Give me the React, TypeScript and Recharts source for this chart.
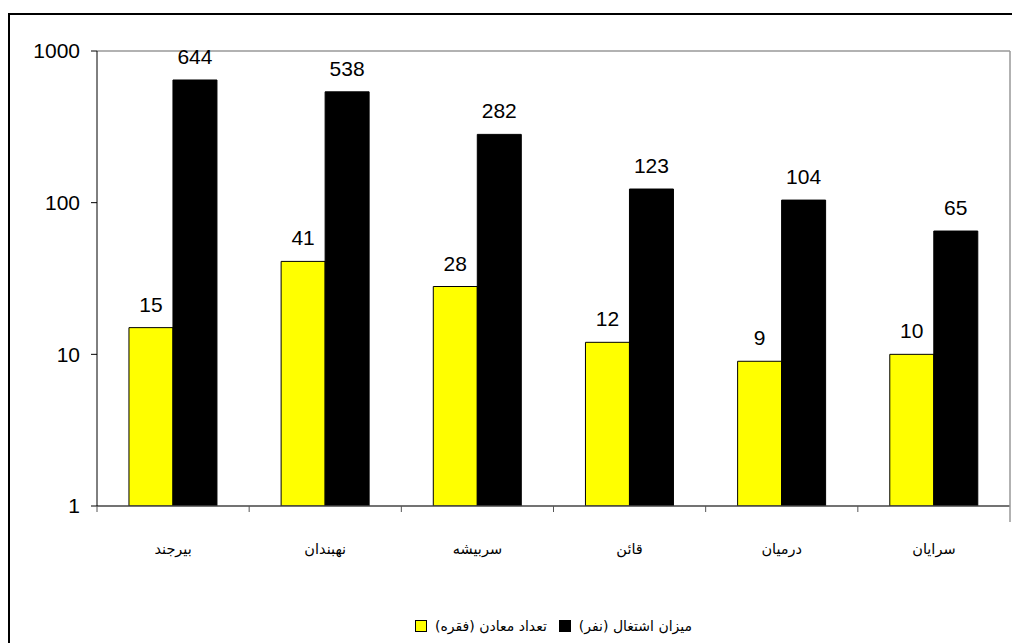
import React from 'react';
import { BarChart, Bar, XAxis, YAxis, LabelList } from 'recharts';

const CATEGORIES = ['بیرجند', 'نهبندان', 'سربیشه', 'قائن', 'درمیان', 'سرایان'];
const MINES = [15, 41, 28, 12, 9, 10];
const EMPLOYMENT = [644, 538, 282, 123, 104, 65];
const Y_TICKS = [1, 10, 100, 1000];
const SERIES_NAMES = ['تعداد معادن (فقره)', 'میزان اشتغال (نفر)'];

const data = CATEGORIES.map((name, i) => ({ name, mines: MINES[i], employment: EMPLOYMENT[i] }));

const W = 1012;
const H = 643;
const PLOT_LEFT = 97;
const PLOT_RIGHT = 1010;
const PLOT_TOP = 51;
const PLOT_BOTTOM = 506;
const X_AXIS_H = 40;
const TICK_SIZE = 6;
const X_TICK_MARGIN = 30;
const BAND = (PLOT_RIGHT - PLOT_LEFT) / CATEGORIES.length;

const CategoryTick = (props: any) => {
  const { x, y, payload, index } = props;
  const axisY = y - TICK_SIZE - X_TICK_MARGIN;
  const half = BAND / 2;
  return (
    <g>
      <line x1={x - half} y1={axisY} x2={x - half} y2={axisY + TICK_SIZE} stroke="#555" strokeWidth={1} />
      {index === CATEGORIES.length - 1 && (
        <line x1={x + half} y1={axisY} x2={x + half} y2={axisY + 16} stroke="#999" strokeWidth={1.5} />
      )}
      <text x={x} y={axisY + 48} textAnchor="middle" fontFamily="DejaVu Sans" fontSize={14.5} fill="#000" stroke="none">
        {payload.value}
      </text>
    </g>
  );
};

const LegendItem = ({ color, label }: { color: string; label: string }) => (
  <div style={{ display: 'flex', alignItems: 'center', gap: 8 }}>
    <div style={{ width: 10, height: 10, background: color, border: '1px solid #000' }} />
    <span dir="rtl" style={{ fontFamily: 'DejaVu Sans', fontSize: 14, color: '#000', whiteSpace: 'nowrap' }}>
      {label}
    </span>
  </div>
);

const labelStyle = { fontFamily: 'Liberation Sans', fontSize: 21, fill: '#000', stroke: 'none' };

export default function App() {
  return (
    <div style={{ position: 'absolute', left: 0, top: 0, width: W, height: H, overflow: 'hidden', background: '#fff' }}>
      <div
        style={{
          position: 'absolute',
          left: 8,
          top: 13,
          width: 1100,
          height: 800,
          border: '2px solid #000',
          boxSizing: 'border-box',
        }}
      />
      <div style={{ position: 'absolute', left: 0, top: 0 }}>
        <BarChart
          width={W}
          height={H}
          data={data}
          margin={{ top: PLOT_TOP - 1, left: PLOT_LEFT - 60, right: W - PLOT_RIGHT - 1, bottom: H - PLOT_BOTTOM - X_AXIS_H }}
          barCategoryGap="21%"
          barGap={0}
        >
          <XAxis
            dataKey="name"
            height={X_AXIS_H}
            axisLine={{ stroke: '#444', strokeWidth: 1.5 }}
            tickLine={false}
            tickSize={TICK_SIZE}
            tickMargin={X_TICK_MARGIN}
            tick={<CategoryTick />}
            interval={0}
          />
          <XAxis
            xAxisId="top"
            dataKey="name"
            orientation="top"
            height={1}
            axisLine={{ stroke: '#999', strokeWidth: 1.5 }}
            tick={false}
            tickLine={false}
          />
          <YAxis
            scale="log"
            domain={[1, 1000]}
            ticks={Y_TICKS}
            allowDataOverflow
            width={60}
            axisLine={{ stroke: '#000', strokeWidth: 1 }}
            tickLine={{ stroke: '#000' }}
            tickSize={TICK_SIZE}
            tickMargin={11}
            tick={labelStyle}
          />
          <YAxis
            yAxisId="right"
            orientation="right"
            scale="log"
            domain={[1, 1000]}
            ticks={Y_TICKS}
            width={1}
            axisLine={{ stroke: '#999', strokeWidth: 1.5 }}
            tick={false}
            tickLine={false}
          />
          <Bar dataKey="mines" name={SERIES_NAMES[0]} fill="#FFFF00" stroke="#000" strokeWidth={1} isAnimationActive={false}>
            <LabelList dataKey="mines" position="top" offset={16} stroke="none" fill="#000" style={labelStyle} />
          </Bar>
          <Bar dataKey="employment" name={SERIES_NAMES[1]} fill="#000000" stroke="#000" strokeWidth={1} isAnimationActive={false}>
            <LabelList dataKey="employment" position="top" offset={16} stroke="none" fill="#000" style={labelStyle} />
          </Bar>
        </BarChart>
      </div>
      <div
        style={{
          position: 'absolute',
          top: 618,
          left: 0,
          width: PLOT_LEFT + PLOT_RIGHT,
          display: 'flex',
          justifyContent: 'center',
          gap: 12,
        }}
      >
        <LegendItem color="#FFFF00" label={SERIES_NAMES[0]} />
        <LegendItem color="#000000" label={SERIES_NAMES[1]} />
      </div>
    </div>
  );
}
